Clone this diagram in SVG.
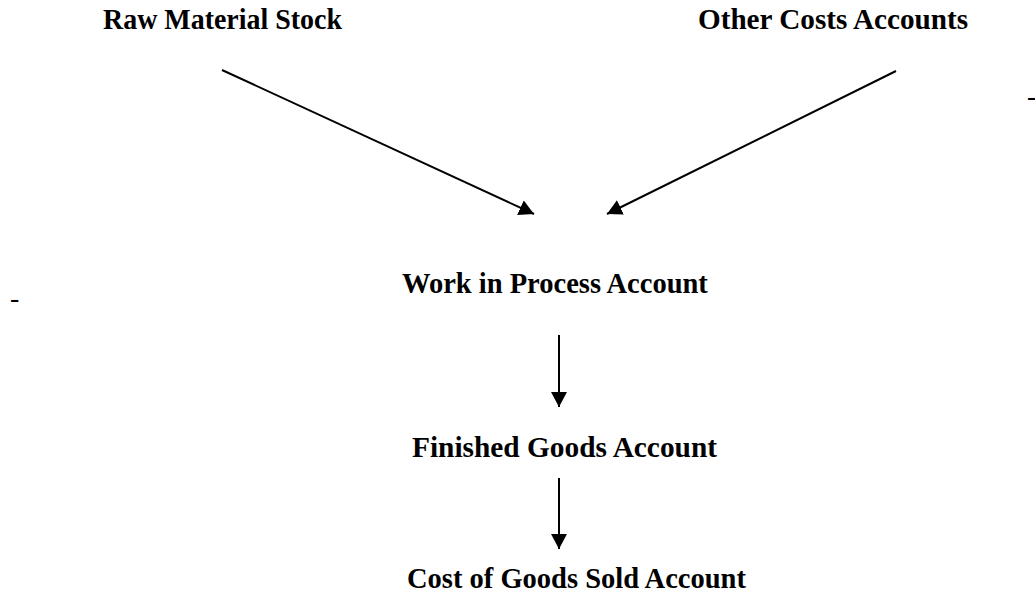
<svg xmlns="http://www.w3.org/2000/svg" width="1035" height="596" viewBox="0 0 1035 596">
<style>
.t{font-family:"Liberation Serif","Times New Roman",serif;font-weight:bold;font-size:28.5px;fill:#000}
.h{font-family:"Liberation Serif","Times New Roman",serif;font-size:28px;fill:#000}
.c{stroke:#000;stroke-width:2;fill:none}
</style>
<defs>
<marker id="ah" viewBox="0 0 15 16" refX="15" refY="8" markerWidth="15" markerHeight="16" markerUnits="userSpaceOnUse" orient="auto">
<path d="M0,0 L15,8 L0,16 z" fill="#000"/>
</marker>
</defs>
<rect width="1035" height="596" fill="#fff"/>
<g id="raw"><text class="t" x="103" y="29" textLength="239" lengthAdjust="spacingAndGlyphs">Raw Material Stock</text></g>
<g id="other"><text class="t" x="698" y="29" textLength="270" lengthAdjust="spacingAndGlyphs">Other Costs Accounts</text></g>
<g id="wip"><text class="t" x="402" y="293">Work in Process Account</text></g>
<g id="fg"><text class="t" x="412" y="457" textLength="305" lengthAdjust="spacingAndGlyphs">Finished Goods Account</text></g>
<g id="cogs"><text class="t" x="407" y="588">Cost of Goods Sold Account</text></g>
<g id="marks">
<text class="h" x="10" y="307">-</text>
<text class="h" x="1027" y="105">-</text>
</g>
<g id="connectors">
<line class="c" x1="222" y1="70" x2="534" y2="214" marker-end="url(#ah)"/>
<line class="c" x1="896" y1="71" x2="607" y2="214" marker-end="url(#ah)"/>
<line class="c" x1="559" y1="335" x2="559" y2="407" marker-end="url(#ah)"/>
<line class="c" x1="559" y1="478" x2="559" y2="549" marker-end="url(#ah)"/>
</g>
</svg>
